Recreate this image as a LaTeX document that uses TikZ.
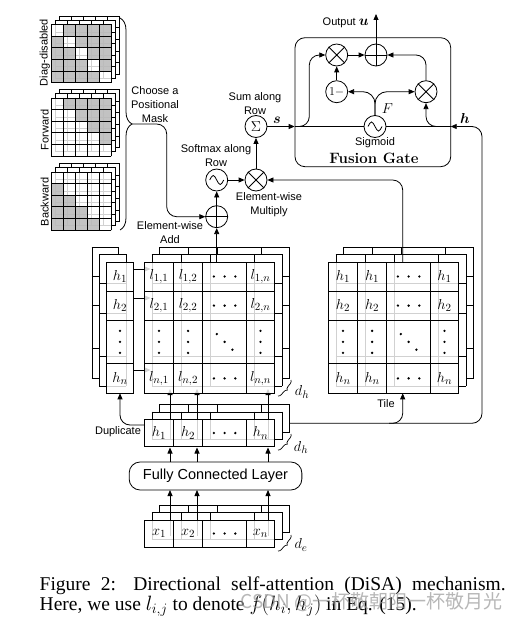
\documentclass[tikz,border=0pt]{standalone}
\usepackage{amsmath}
\usepackage{bm}
\usepackage{fontspec}
\setsansfont{Liberation Sans}
\newfontfamily\capfont{Liberation Serif}
\newfontfamily\cjkfont{Noto Sans CJK SC}
\usetikzlibrary{arrows.meta,decorations.pathreplacing}

\tikzset{
  gridline/.style={line width=0.75pt, line cap=rect},
  lab/.style={font=\sffamily\fontsize{11}{14}\selectfont, align=center, inner sep=0pt},
  mth/.style={font=\fontsize{15.5}{17}\selectfont, inner sep=0pt},
  op/.style={circle, draw, fill=white, line width=0.8pt, minimum size=22pt, inner sep=0pt},
  arr/.style={line width=0.8pt, -{Triangle[length=6pt,width=5pt]}},
  frontfill/.style={fill=white, fill opacity=0.82},
  maskgray/.style={fill=black!28, fill opacity=0.85},
  dimbrace/.style={decorate, decoration={brace, amplitude=3.5pt}, line width=0.7pt},
}

\newcommand{\gridlines}[4]{%
  \foreach \cc in {#3} \draw[gridline] (\cc,0) -- (\cc,#2);
  \foreach \rr in {#4} \draw[gridline] (0,\rr) -- (#1,\rr);
}
\newcommand{\backlayers}[8]{%
  \foreach \ll in {2,1}{%
    \begin{scope}[shift={({#1+(#3)*\ll},{#2+(#4)*\ll})}]
      \fill[white] (0,0) rectangle (#5,#6);
      \gridlines{#5}{#6}{#7}{#8}
    \end{scope}}}
\newcommand{\frontlayer}[6]{%
  \begin{scope}[shift={(#1,#2)}]
    \fill[frontfill] (0,0) rectangle (#3,#4);
    \gridlines{#3}{#4}{#5}{#6}
  \end{scope}}
\newcommand{\maskstack}[2]{%
  \backlayers{51}{#1}{4.3}{-4.2}{60}{58}{0,12,24,36,48,60}{0,11.6,23.2,34.8,46.4,58}
  \begin{scope}[shift={(51,#1)}]
    \fill[frontfill] (0,0) rectangle (60,58);
    \foreach \i in {0,...,4}{\foreach \j in {0,...,4}{%
      \pgfmathtruncatemacro\res{#2}%
      \ifnum\res=1 \fill[maskgray] ({\j*12},{\i*11.6}) rectangle ++(12,11.6);\fi}}
    \gridlines{60}{58}{0,12,24,36,48,60}{0,11.6,23.2,34.8,46.4,58}
  \end{scope}}
\newcommand{\dotsH}[2]{\foreach \k in {-1,0,1} \fill ({#1+10.7*\k},#2) circle (1.3pt);}
\newcommand{\dotsV}[2]{\foreach \k in {-1,0,1} \fill (#1,{#2+11*\k}) circle (1.3pt);}
\newcommand{\dotsD}[2]{\foreach \k in {-1,0,1} \fill ({#1+7.8*\k},{#2+7.8*\k}) circle (1.3pt);}
\newcommand{\crossin}[1]{\draw (#1.45) -- (#1.225) (#1.135) -- (#1.315);}
\newcommand{\plusin}[1]{\draw (#1.north) -- (#1.south) (#1.east) -- (#1.west);}
\newcommand{\wavein}[1]{\draw (#1.center) ++(-7,0) sin ++(3.5,-4.5) cos ++(3.5,4.5) sin ++(3.5,4.5) cos ++(3.5,-4.5);}

\begin{document}
\begin{tikzpicture}[x=1pt,y=-1pt,line width=0.8pt]
\useasboundingbox (0,0) rectangle (529,623);
\fill[white] (0,0) rectangle (529,623);

% ---------- positional masks ----------
\maskstack{24.5}{\i!=\j}
\maskstack{98}{\j>\i}
\maskstack{172}{\j<\i}
\node[lab,rotate=90] (lbdiag) at (44.7,52.5) {Diag-disabled};
\node[lab,rotate=90] (lbfwd) at (44.7,130) {Forward};
\node[lab,rotate=90] (lbbwd) at (44.7,202) {Backward};
\draw[decorate, decoration={brace, amplitude=12pt}] (120,18) -- (120,230);
\coordinate (bracetip) at (132,124);
\node[lab] (chooselab) at (155,104.5) {Choose a\\Positional\\Mask};

% ---------- back layers ----------
\backlayers{106.7}{262}{-7.4}{-7.4}{26.6}{131.3}{0,26.6}{0,29,58.3,101.5,131.3}
\backlayers{144.5}{262}{7.4}{-7.4}{130}{131.3}{0,29,58.2,102,130}{0,29,58.3,101.5,131.3}
\backlayers{328.5}{262}{7.4}{-7.4}{130}{131.3}{0,29,58.2,102,130}{0,29,58.3,101.5,131.3}
\backlayers{144.5}{419.3}{7.4}{-7.4}{130}{27.4}{0,29,58.2,102,130}{0,27.4}
\backlayers{144.5}{520}{7.4}{-7.4}{130}{27}{0,29,58.2,102,130}{0,27}

% ---------- connectors seen through front layers ----------
\foreach \yy in {269,298,370} \draw[arr] (133.3,\yy) -- (150.5,\yy);
\foreach \xx in {170,197,268} \draw[arr] (\xx,440) -- (\xx,389);
\foreach \xx in {170,197,268} \draw[arr] (\xx,536) -- (\xx,490);

% ---------- front layers ----------
\frontlayer{106.7}{262}{26.6}{131.3}{0,26.6}{0,29,58.3,101.5,131.3}
\frontlayer{144.5}{262}{130}{131.3}{0,29,58.2,102,130}{0,29,58.3,101.5,131.3}
\frontlayer{328.5}{262}{130}{131.3}{0,29,58.2,102,130}{0,29,58.3,101.5,131.3}
\frontlayer{144.5}{419.3}{130}{27.4}{0,29,58.2,102,130}{0,27.4}
\frontlayer{144.5}{520}{130}{27}{0,29,58.2,102,130}{0,27}

% h column
\node[mth] (hc1) at (120,276.5) {$h_1$};
\node[mth] (hc2) at (120,305.6) {$h_2$};
\dotsV{120}{341.9}
\node[mth] (hcn) at (120,378.4) {$h_n$};

% l matrix
\node[mth] (l11) at (159,276.5) {$l_{1,1}$};
\node[mth] (l12) at (188.1,276.5) {$l_{1,2}$};
\dotsH{224.6}{276.5}
\node[mth] (l1n) at (260.5,276.5) {$l_{1,n}$};
\node[mth] (l21) at (159,305.6) {$l_{2,1}$};
\node[mth] (l22) at (188.1,305.6) {$l_{2,2}$};
\dotsH{224.6}{305.6}
\node[mth] (l2n) at (260.5,305.6) {$l_{2,n}$};
\dotsV{159}{341.9} \dotsV{188.1}{341.9} \dotsD{224.6}{341.9} \dotsV{260.5}{341.9}
\node[mth] (ln1) at (159,378.4) {$l_{n,1}$};
\node[mth] (ln2) at (188.1,378.4) {$l_{n,2}$};
\dotsH{224.6}{378.4}
\node[mth] (lnn) at (260.5,378.4) {$l_{n,n}$};

% tiled matrix
\node[mth] (t11) at (343,276.5) {$h_1$};
\node[mth] (t12) at (372.1,276.5) {$h_1$};
\dotsH{408.6}{276.5}
\node[mth] (t1n) at (444.5,276.5) {$h_1$};
\node[mth] (t21) at (343,305.6) {$h_2$};
\node[mth] (t22) at (372.1,305.6) {$h_2$};
\dotsH{408.6}{305.6}
\node[mth] (t2n) at (444.5,305.6) {$h_2$};
\dotsV{343}{341.9} \dotsV{372.1}{341.9} \dotsD{408.6}{341.9} \dotsV{444.5}{341.9}
\node[mth] (tn1) at (343,378.4) {$h_n$};
\node[mth] (tn2) at (372.1,378.4) {$h_n$};
\dotsH{408.6}{378.4}
\node[mth] (tnn) at (444.5,378.4) {$h_n$};

% h row and x row
\node[mth] (hr1) at (159,433) {$h_1$};
\node[mth] (hr2) at (188.1,433) {$h_2$};
\dotsH{224.6}{433}
\node[mth] (hrn) at (260.5,433) {$h_n$};
\node[mth] (xr1) at (159,533.5) {$x_1$};
\node[mth] (xr2) at (188.1,533.5) {$x_2$};
\dotsH{224.6}{533.5}
\node[mth] (xrn) at (260.5,533.5) {$x_n$};

% dimension braces
\draw[dimbrace] (291,380) -- (278,396);
\node[mth] (dh1) at (302,392) {$d_h$};
\draw[dimbrace] (291,434) -- (278,450);
\node[mth] (dh2) at (301,447.5) {$d_h$};
\draw[dimbrace] (291,535) -- (278,551);
\node[mth] (dde) at (301,545) {$d_e$};

% fully connected layer
\node[draw, rounded corners=11, minimum width=172.7pt, minimum height=28pt, inner sep=0pt,
      font=\sffamily\fontsize{14.5}{16}\selectfont] (fc) at (215.5,476) {Fully Connected Layer};
\foreach \xx in {170,197,268} \draw[arr] (\xx,462) -- (\xx,447.5);

% duplicate
\coordinate (dupstart) at (144.5,425);
\coordinate (hcbot) at (120,393.3);
\draw[arr, rounded corners=10] (dupstart) -| (hcbot);
\node[lab] (duplab) at (118,431.5) {Duplicate};

% h line to gate and tile
\coordinate (hstart) at (289.3,423.3);
\coordinate (hcorner1) at (482,423.3);
\coordinate (hcorner2) at (482,126.5);
\coordinate (hend) at (450.7,126.5);
\draw[arr, rounded corners=10] (hstart) -- (hcorner1) -- (hcorner2) -- (hend);
\coordinate (tilebr) at (389,423.3);
\coordinate (tilebot) at (402.7,393.3);
\draw[arr, rounded corners=10] (tilebr) -| (tilebot);
\node[lab] (tilelab) at (386,404) {Tile};

% ---------- attention operators ----------
\node[op] (add) at (216.7,216.7) {}; \plusin{add}
\node[op] (soft) at (216.7,180) {}; \wavein{soft}
\node[op] (mul) at (256,180) {}; \crossin{mul}
\node[op, font=\fontsize{14}{14}\selectfont] (sum) at (256,126.5) {$\Sigma$};

\coordinate (ltop) at (216.7,262);
\coordinate (ttop) at (402.7,262);
\draw[arr] (ltop) -- (add.south);
\draw[arr, rounded corners=10] (ttop) |- (mul.east);
\draw[arr, rounded corners=10] (bracetip) -- (166.7,124) -- (166.7,216.7) -- (add.west);
\draw[arr] (add.north) -- (soft.south);
\draw[arr] (soft.east) -- (mul.west);
\draw[arr] (mul.north) -- (sum.south);

\node[lab] (addlab) at (170,233) {Element-wise\\Add};
\node[lab] (softlab) at (216,155.5) {Softmax along\\Row};
\node[lab] (mullab) at (269,204.5) {Element-wise\\Multiply};
\node[lab] (sumlab) at (255,103.5) {Sum along\\Row};

% ---------- fusion gate ----------
\node[draw, rounded corners=10, minimum width=155.7pt, minimum height=129pt, inner sep=0pt] (gate) at (372.85,102.2) {};
\node[font=\bfseries\fontsize{15}{17}\selectfont, anchor=base, inner sep=0pt] (gatelab) at (374,163.5) {Fusion Gate};
\node[op] (mulA) at (336.7,55) {}; \crossin{mulA}
\node[op] (plus) at (376,55) {}; \plusin{plus}
\node[op, font=\fontsize{13}{13}\selectfont] (one) at (336.7,91.7) {$1{-}$};
\node[op] (mulB) at (426,91.7) {}; \crossin{mulB}
\node[op] (sig) at (375,126.5) {}; \wavein{sig}

\draw[arr] (sum.east) -- (sum.east -| gate.west);
\draw (sum.east -| gate.west) -- (sig.west);
\draw (sig.east) -- (hend);
\draw[arr, rounded corners=10] (297,126.5) -- (309.3,126.5) -- (309.3,55) -- (mulA.west);
\draw[arr] (mulA.east) -- (plus.west);
\draw[arr] (one.north) -- (mulA.south);
\draw[arr, rounded corners=10] (mulB.north) |- (plus.east);
\draw[arr, rounded corners=10] (446,126.5) -| (mulB.south);
\draw[arr, rounded corners=12] (sig.north) |- (one.east);
\draw[arr, rounded corners=12] (sig.north) |- (mulB.west);
\coordinate (outtip) at (376,14);
\draw[arr] (plus.north) -- (outtip);

\node[mth] (slab) at (277,120) {$\bm{s}$};
\node[mth] (hlab) at (465,118.5) {$\bm{h}$};
\node[mth] (flab) at (387.5,108.3) {$F$};
\node[lab] (siglab) at (375,143) {Sigmoid};
\node[lab, anchor=east] (outlab) at (369,22.5) {Output {\fontsize{14}{14}\selectfont$\bm{u}$}};

% ---------- caption ----------
\node[anchor=base west, inner sep=0pt, font=\capfont\fontsize{19.5}{20}\selectfont] (cap1) at (39.3,590)
  {\makebox[466pt][s]{Figure 2: Directional self-attention (DiSA) mechanism.}};
\node[anchor=base west, inner sep=0pt, font=\capfont\fontsize{19.5}{20}\selectfont] (cap2) at (39.3,610)
  {Here, we use $l_{i,j}$ to denote $f(h_i, h_j)$ in Eq. (15).};
\node[anchor=base west, inner sep=0pt, font=\cjkfont\fontsize{19}{20}\selectfont, text=black!40, text opacity=0.7] (wm) at (240,608)
  {CSDN @一杯敬朝阳一杯敬月光};
\end{tikzpicture}
\end{document}
